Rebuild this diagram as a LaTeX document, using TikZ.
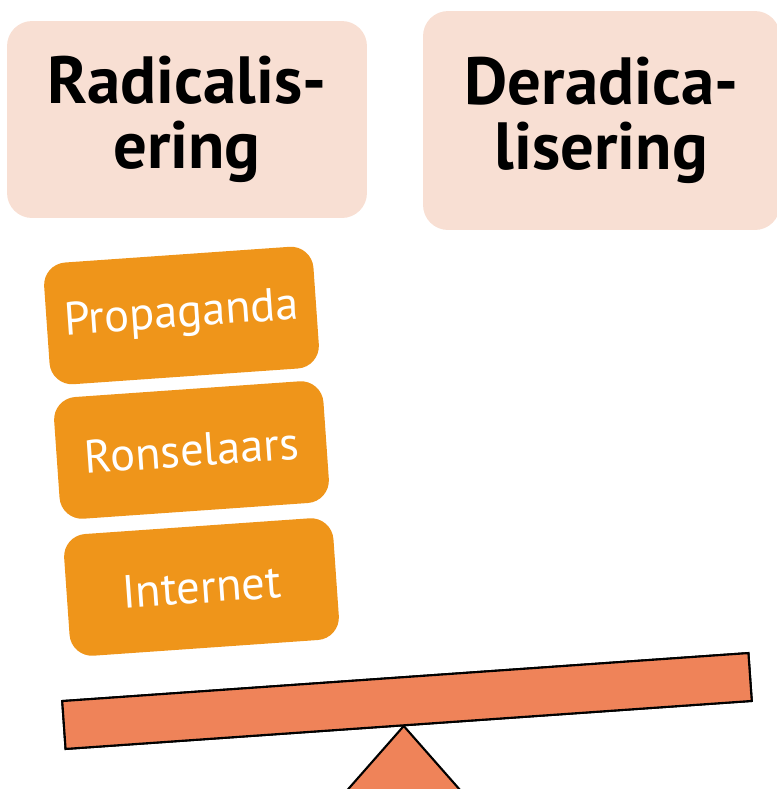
\documentclass[tikz,border=0pt]{standalone}
\usepackage{fontspec}
\setmainfont{PT Sans}
\usepackage{tikz}
\usetikzlibrary{shapes,positioning}
\definecolor{peach}{RGB}{248,223,211}
\definecolor{amber}{RGB}{239,149,26}
\definecolor{salmon}{RGB}{239,131,89}
\tikzstyle{header} = [rectangle, fill=peach, rounded corners=0.5cm, align=center, text=black, font=\fontsize{38}{37}\selectfont\bfseries]
\tikzstyle{factor} = [rectangle, fill=amber, rounded corners=0.45cm, minimum width=5.4cm, minimum height=2.44cm, text=white, font=\fontsize{26.5}{28}\selectfont, rotate=4]
\tikzstyle{plank} = [rectangle, draw=black, line width=1.2pt, fill=salmon, minimum width=13.76cm, minimum height=0.96cm, inner sep=0pt, rotate=4]

\begin{document}
\begin{tikzpicture}[x=0.02cm, y=0.02cm]
	\useasboundingbox (0,0) rectangle (777,-789);
	\clip (0,0) rectangle (777,-789);
	\node[header, minimum width=7.2cm, minimum height=3.94cm](radical) at (187,-119.5){Radicalis-\\ering};
	\node[header, minimum width=7.14cm, minimum height=4.38cm](deradical) at (601.5,-120.5){Deradica-\\lisering};

	\node[factor](propaganda) at (181.5,-315.5){Propaganda};
	\node[factor](ronselaars) at (191.5,-450){Ronselaars};
	\node[factor](internet)   at (201.5,-587){Internet};

	\node[plank](balance) at (407,-701){};
	\draw[line width=1.2pt, fill=salmon] ([xshift=-0.1cm]balance.south) -- ++(-88,-100) -- ++(176,0) -- cycle;
	\node[plank] at (balance){};
\end{tikzpicture}
\end{document}
